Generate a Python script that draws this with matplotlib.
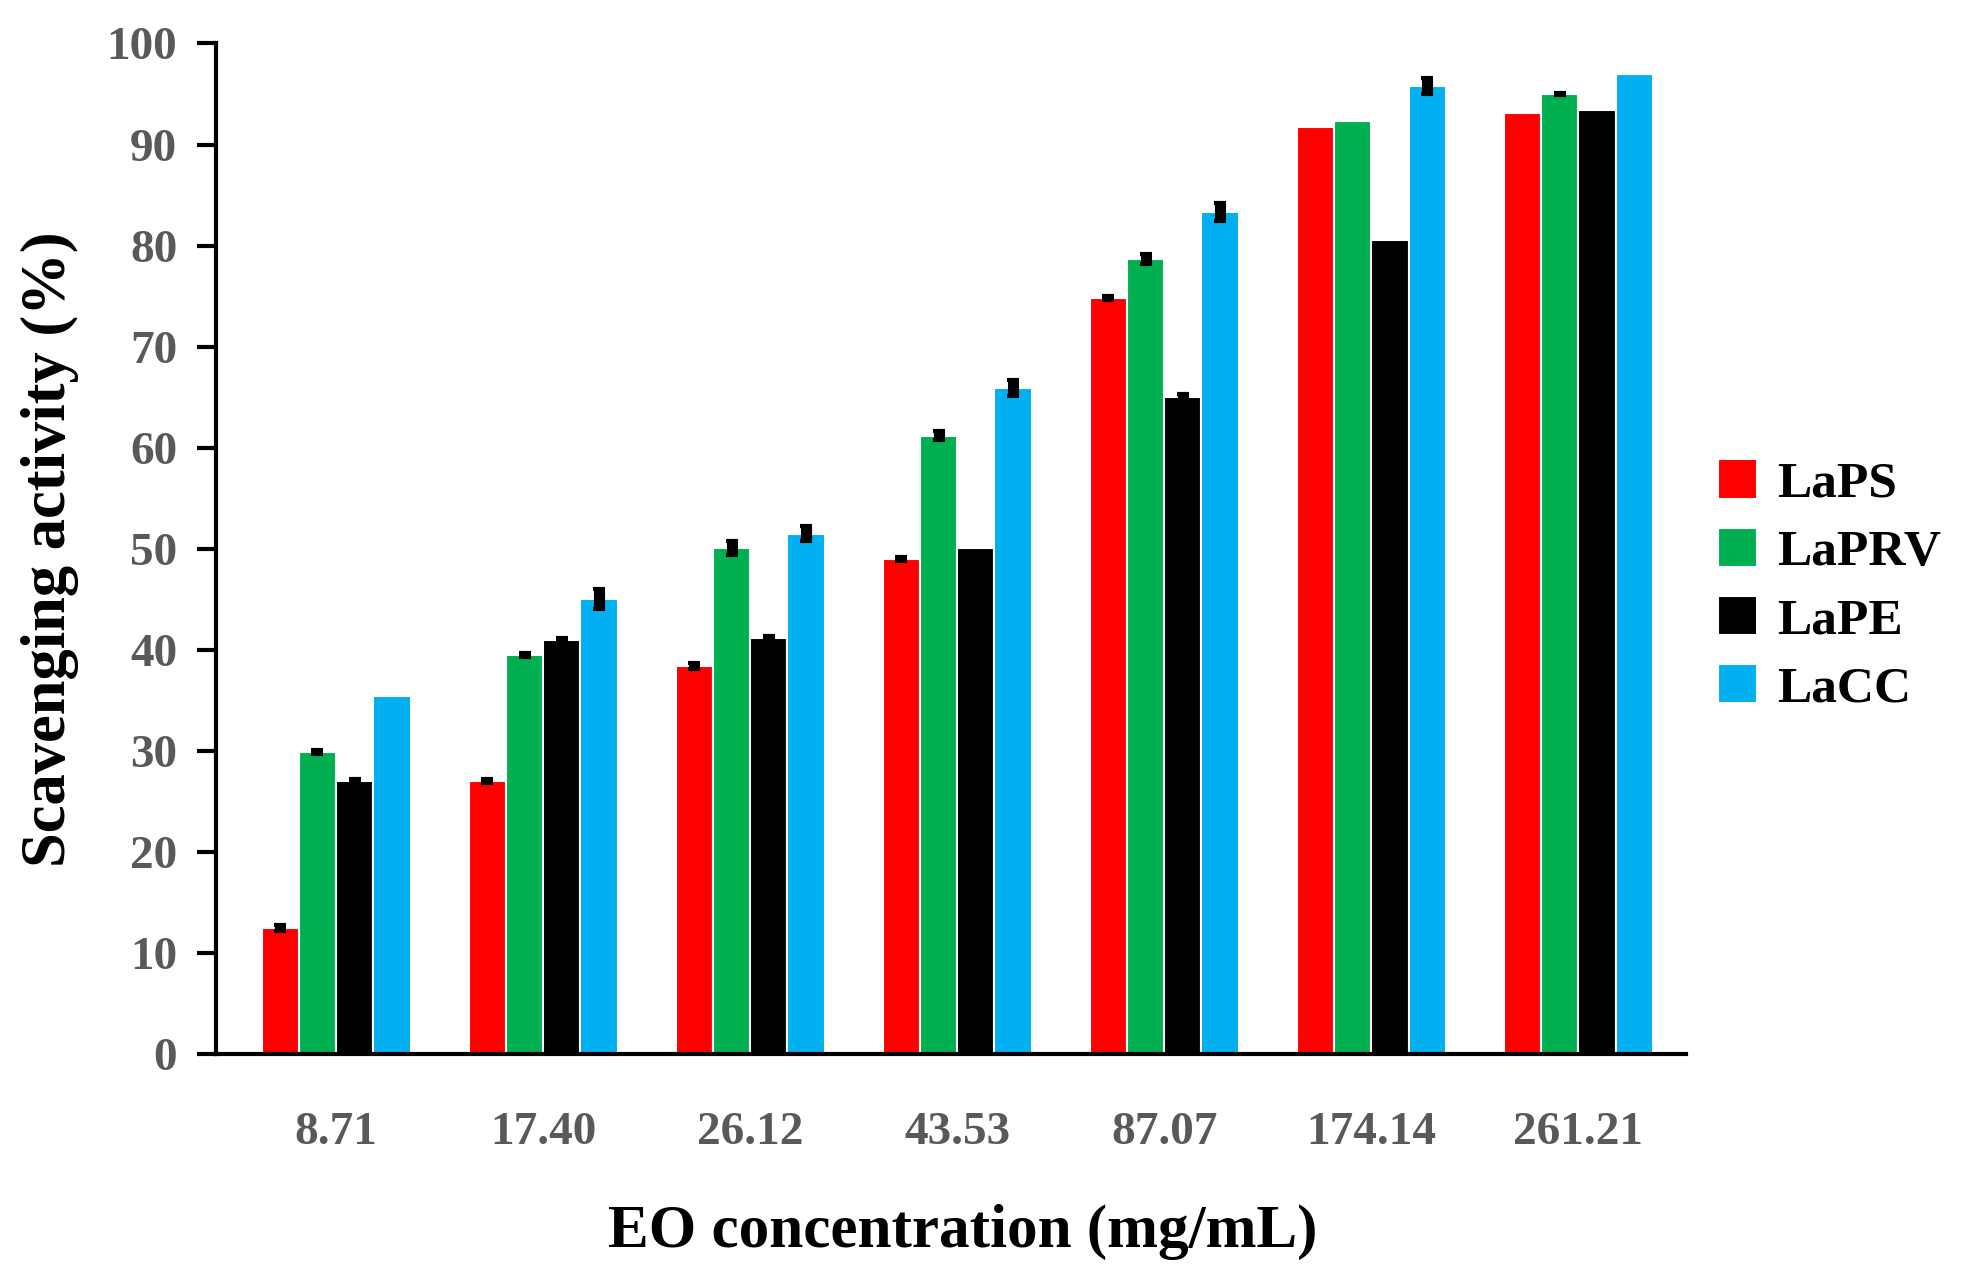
import matplotlib
matplotlib.use("Agg")
import matplotlib.pyplot as plt
import numpy as np

# DATA.
concentrations = ['8.71', '17.40', '26.12', '43.53', '87.07', '174.14', '261.21']
samples = ['LaPS', 'LaPRV', 'LaPE', 'LaCC']
laps = [12.5, 27.0, 38.4, 49.0, 74.8, 91.7, 93.1]
laprv = [29.9, 39.5, 50.1, 61.2, 78.7, 92.3, 95.0]
lape = [27.0, 41.0, 41.2, 50.1, 65.0, 80.6, 93.4]
lacc = [35.4, 45.0, 51.5, 65.9, 83.3, 95.8, 97.0]
laps_err = [0.3, 0.2, 0.3, 0.2, 0.2, np.nan, np.nan]
laprv_err = [0.2, 0.2, 0.7, 0.4, 0.5, np.nan, 0.1]
lape_err = [0.2, 0.2, 0.2, np.nan, 0.3, np.nan, np.nan]
lacc_err = [np.nan, 1.0, 0.7, 0.8, 0.9, 0.8, np.nan]
colors = ['#ff0000', '#00b050', '#000000', '#00b0f0']

plt.rcParams['font.family'] = ['Liberation Serif', 'DejaVu Serif']

fig = plt.figure(figsize=(19.73, 12.79), dpi=100)
ax = fig.add_axes([0.1095, 0.176, 0.745, 0.79])

x = np.arange(len(concentrations))
width = 0.18
series = [laps, laprv, lape, lacc]
errs = [laps_err, laprv_err, lape_err, lacc_err]
for i, (vals, err, col, lab) in enumerate(zip(series, errs, colors, samples)):
    pos = x + (i - 1.5) * width
    ax.bar(pos, vals, width, color=col, edgecolor='white', linewidth=1.5, label=lab, zorder=2)
    ax.errorbar(pos, vals, yerr=err, fmt='none', ecolor='black', elinewidth=8,
                capsize=4, capthick=3, zorder=3)

ax.set_xlim(-0.58, 6.52)
ax.set_ylim(0, 100)
ax.set_yticks(range(0, 101, 10))
ax.set_xticks(x)
ax.set_xticklabels(concentrations)

for s in ['top', 'right']:
    ax.spines[s].set_visible(False)
for s in ['left', 'bottom']:
    ax.spines[s].set_linewidth(3)
    ax.spines[s].set_color('black')

ax.tick_params(axis='y', length=14, width=3, labelsize=34, labelcolor='#595959', pad=14)
ax.tick_params(axis='x', length=0, labelsize=34, labelcolor='#595959', pad=42)
for lbl in ax.get_xticklabels() + ax.get_yticklabels():
    lbl.set_fontweight('bold')

ax.set_xlabel('EO concentration (mg/mL)', fontsize=44, fontweight='bold', labelpad=36)
ax.xaxis.label.set_x(0.508)
ax.set_ylabel('Scavenging activity (%)', fontsize=45, fontweight='bold', labelpad=20)

leg = fig.legend(loc='center left', bbox_to_anchor=(0.871, 0.542), frameon=False,
                 prop={'size': 37, 'weight': 'bold'}, handlelength=0.75, handleheight=0.8,
                 handletextpad=0.4, labelspacing=0.38, borderaxespad=0, borderpad=0)

plt.savefig('out.png', dpi=100)
